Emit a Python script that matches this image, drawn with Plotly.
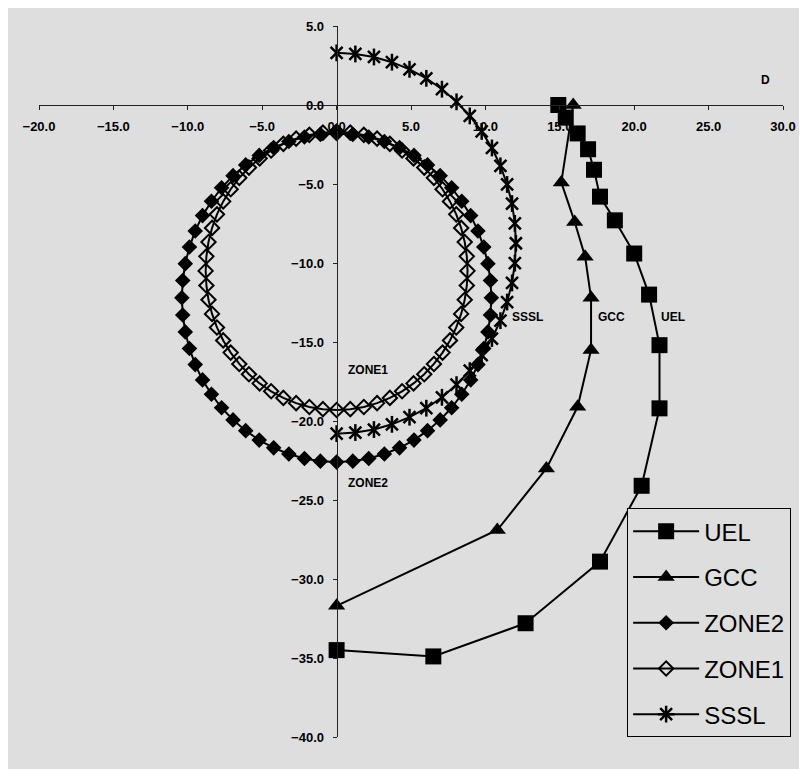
import plotly.graph_objects as go

# ---------------- data ----------------
uel_x = [14.9, 15.4, 16.2, 16.9, 17.3, 17.7, 18.7, 20.0, 21.0, 21.7, 21.7, 20.5, 17.7, 12.7, 6.5, 0.0]
uel_y = [0.0, -0.8, -1.8, -2.8, -4.1, -5.8, -7.3, -9.4, -12.0, -15.2, -19.2, -24.1, -28.9, -32.8, -34.9, -34.5]

gcc_x = [15.9, 15.1, 16.0, 16.7, 17.1, 17.1, 16.2, 14.1, 10.8, 0.0]
gcc_y = [0.0, -4.9, -7.4, -9.6, -12.2, -15.5, -19.1, -23.0, -26.9, -31.7]

zone2_x = [0.0, 1.09, 2.16, 3.21, 4.23, 5.20, 6.11, 6.96, 7.73, 8.41, 9.01, 9.50, 9.89, 10.17, 10.34, 10.40,
           10.34, 10.17, 9.89, 9.50, 9.01, 8.41, 7.73, 6.96, 6.11, 5.20, 4.23, 3.21, 2.16, 1.09, 0.0,
           -1.09, -2.16, -3.21, -4.23, -5.20, -6.11, -6.96, -7.73, -8.41, -9.01, -9.50, -9.89, -10.17, -10.34, -10.40,
           -10.34, -10.17, -9.89, -9.50, -9.01, -8.41, -7.73, -6.96, -6.11, -5.20, -4.23, -3.21, -2.16, -1.09, 0.0]
zone2_y = [-1.80, -1.86, -2.03, -2.31, -2.70, -3.19, -3.79, -4.47, -5.24, -6.09, -7.00, -7.97, -8.99, -10.04, -11.11, -12.20,
           -13.29, -14.36, -15.41, -16.43, -17.40, -18.31, -19.16, -19.93, -20.61, -21.21, -21.70, -22.09, -22.37, -22.54, -22.60,
           -22.54, -22.37, -22.09, -21.70, -21.21, -20.61, -19.93, -19.16, -18.31, -17.40, -16.43, -15.41, -14.36, -13.29, -12.20,
           -11.11, -10.04, -8.99, -7.97, -7.00, -6.09, -5.24, -4.47, -3.79, -3.19, -2.70, -2.31, -2.03, -1.86, -1.80]

zone1_x = [0.0, 0.92, 1.83, 2.72, 3.58, 4.40, 5.17, 5.89, 6.54, 7.12, 7.62, 8.04, 8.37, 8.61, 8.75, 8.80,
           8.75, 8.61, 8.37, 8.04, 7.62, 7.12, 6.54, 5.89, 5.17, 4.40, 3.58, 2.72, 1.83, 0.92, 0.0,
           -0.92, -1.83, -2.72, -3.58, -4.40, -5.17, -5.89, -6.54, -7.12, -7.62, -8.04, -8.37, -8.61, -8.75, -8.80,
           -8.75, -8.61, -8.37, -8.04, -7.62, -7.12, -6.54, -5.89, -5.17, -4.40, -3.58, -2.72, -1.83, -0.92, 0.0]
zone1_y = [-1.70, -1.75, -1.89, -2.13, -2.46, -2.88, -3.38, -3.96, -4.61, -5.33, -6.10, -6.92, -7.78, -8.67, -9.58, -10.50,
           -11.42, -12.33, -13.22, -14.08, -14.90, -15.67, -16.39, -17.04, -17.62, -18.12, -18.54, -18.87, -19.11, -19.25, -19.30,
           -19.25, -19.11, -18.87, -18.54, -18.12, -17.62, -17.04, -16.39, -15.67, -14.90, -14.08, -13.22, -12.33, -11.42, -10.50,
           -9.58, -8.67, -7.78, -6.92, -6.10, -5.33, -4.61, -3.96, -3.38, -2.88, -2.46, -2.13, -1.89, -1.75, -1.70]

sssl_x = [0.0, 1.26, 2.51, 3.72, 4.90, 6.03, 7.08, 8.06, 8.95, 9.75, 10.44, 11.01, 11.46, 11.79, 11.98, 12.05,
          11.98, 11.79, 11.46, 11.01, 10.44, 9.75, 8.95, 8.06, 7.08, 6.03, 4.90, 3.72, 2.51, 1.26, 0.0]
sssl_y = [3.30, 3.23, 3.04, 2.71, 2.26, 1.69, 1.00, 0.20, -0.69, -1.67, -2.72, -3.85, -5.03, -6.24, -7.49, -8.75,
          -10.01, -11.26, -12.47, -13.65, -14.78, -15.83, -16.81, -17.70, -18.50, -19.19, -19.76, -20.21, -20.54, -20.73, -20.80]

label_text = ["SSSL", "GCC", "UEL", "ZONE1", "ZONE2", "D"]
label_x = [12.85, 18.5, 22.6, 2.1, 2.1, 28.8]
label_y = [-13.4, -13.4, -13.4, -16.8, -23.9, 1.6]

x_range = [-20, 30]
y_range = [-40, 5]

# ---------------- figure ----------------
BG = "#dedede"
INK = "#000000"
fig = go.Figure()

line_style = dict(color=INK, width=2)

fig.add_trace(go.Scatter(x=uel_x, y=uel_y, name="UEL", mode="lines+markers", legendgroup="a",
                         line=line_style, marker=dict(symbol="square", size=16, color=INK)))
fig.add_trace(go.Scatter(x=gcc_x, y=gcc_y, name="GCC", mode="lines+markers", legendgroup="b",
                         line=line_style, marker=dict(symbol="triangle-up", size=15, color=INK)))
fig.add_trace(go.Scatter(x=zone2_x, y=zone2_y, name="ZONE2", mode="lines+markers", legendgroup="c",
                         line=line_style, marker=dict(symbol="diamond", size=12, color=INK)))
fig.add_trace(go.Scatter(x=zone1_x, y=zone1_y, name="ZONE1", mode="lines+markers", legendgroup="d",
                         line=line_style,
                         marker=dict(symbol="diamond-open", size=11, color=INK, line=dict(color=INK, width=2))))
fig.add_trace(go.Scatter(x=sssl_x, y=sssl_y, name="SSSL", mode="lines+markers", legendgroup="e",
                         showlegend=False, line=line_style,
                         marker=dict(symbol="x-thin-open", size=12, color=INK, line=dict(color=INK, width=2.5))))
fig.add_trace(go.Scatter(x=sssl_x, y=sssl_y, name="SSSL", mode="markers", legendgroup="e",
                         showlegend=False,
                         marker=dict(symbol="line-ns-open", size=12, color=INK, line=dict(color=INK, width=2.5))))
fig.add_trace(go.Scatter(x=[None], y=[None], name="SSSL", mode="lines+markers", legendgroup="e",
                         line=line_style,
                         marker=dict(symbol="asterisk-open", size=14, color=INK, line=dict(color=INK, width=2.5))))

for t, x, y in zip(label_text, label_x, label_y):
    fig.add_annotation(x=x, y=y, text=t, showarrow=False, xanchor="center", yanchor="middle",
                       font=dict(family="Liberation Sans, Arial", size=12, color=INK, weight="bold"))

tick_font = dict(family="Liberation Sans, Arial", size=13, color=INK, weight="bold")
ypos = (0 - y_range[0]) / (y_range[1] - y_range[0])
xpos = (0 - x_range[0]) / (x_range[1] - x_range[0])

fig.update_layout(
    width=799, height=761,
    margin=dict(l=31, r=21, t=11, b=32),
    paper_bgcolor=BG,
    plot_bgcolor=BG,
    showlegend=True,
    legend=dict(x=0.7905, y=0.3217, xanchor="left", yanchor="top",
                bgcolor=BG, bordercolor=INK, borderwidth=1,
                font=dict(family="Liberation Sans, Arial", size=24, color=INK),
                traceorder="grouped", tracegroupgap=11.5, itemwidth=66),
    xaxis=dict(range=x_range, dtick=5, tickformat=".1f", anchor="free", position=ypos,
               showgrid=False, zeroline=False, showline=True, linecolor="#222", linewidth=1,
               ticks="outside", ticklen=4, tickcolor="#222", tickfont=tick_font,
               ticklabelstandoff=5),
    yaxis=dict(range=y_range, dtick=5, tickformat=".1f", anchor="free", position=xpos,
               showgrid=False, zeroline=False, showline=True, linecolor="#222", linewidth=1,
               ticks="outside", ticklen=4, tickcolor="#222", tickfont=tick_font,
               ticklabelstandoff=6),
)

fig.write_html("out.html")
